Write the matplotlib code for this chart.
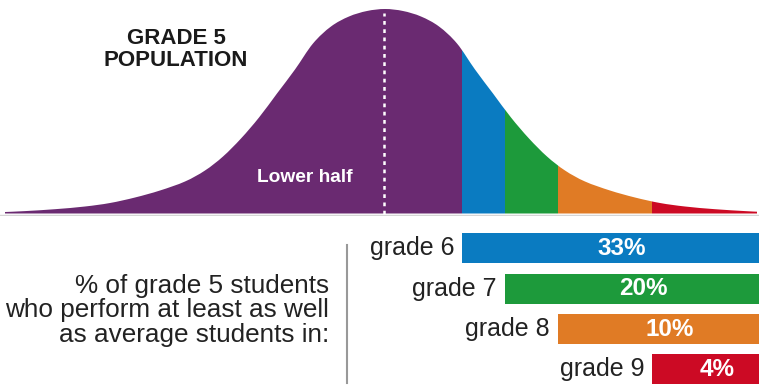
import matplotlib
matplotlib.use('Agg')
import matplotlib.pyplot as plt
from matplotlib.path import Path
from matplotlib.patches import PathPatch

plt.rcParams['font.family'] = ['Liberation Sans', 'DejaVu Sans']

# bell curve (x position, height above baseline)
curve_x = [5, 25, 55, 85, 110, 135, 160, 185, 205, 223, 241, 259, 277, 295, 313, 331, 349, 367,
           385, 403, 421, 439, 457, 475, 493, 511, 529, 547, 565, 585, 610, 635, 660, 685, 715, 745, 757]
curve_h = [1.5, 2.4, 4.3, 7, 10.5, 16, 23, 32, 43, 57, 75, 96, 120, 144, 170, 187, 197, 202.5,
           204.5, 202.5, 197, 187, 170, 144, 120, 96, 75, 57, 43, 32, 23, 16, 10.5, 7, 4.3, 2.4, 1.8]

mean_x = 384
cutoffs = [462, 505, 558, 652]          # where each grade's average sits on the curve
grades = ['grade 6', 'grade 7', 'grade 8', 'grade 9']
shares = ['33%', '20%', '10%', '4%']
colors = ['#0A7BC1', '#1D9A3B', '#E07B25', '#CC0A24']
purple = '#6A2A71'

W, H = 759, 386
fig = plt.figure(figsize=(W / 100, H / 100), dpi=100)

# ---- top: distribution ----
ax = fig.add_axes([0, 170 / H, 1, 216 / H])
ax.set_xlim(0, W)
ax.set_ylim(-2.5, 213.5)
ax.axis('off')

# smooth the read points with a Catmull-Rom -> bezier path
pts = list(zip(curve_x, curve_h))
verts = [(curve_x[0], 0), pts[0]]
codes = [Path.MOVETO, Path.LINETO]
for i in range(len(pts) - 1):
    p0 = pts[max(i - 1, 0)]
    p1 = pts[i]
    p2 = pts[i + 1]
    p3 = pts[min(i + 2, len(pts) - 1)]
    c1 = (p1[0] + (p2[0] - p0[0]) / 6, p1[1] + (p2[1] - p0[1]) / 6)
    c2 = (p2[0] - (p3[0] - p1[0]) / 6, p2[1] - (p3[1] - p1[1]) / 6)
    verts += [c1, c2, p2]
    codes += [Path.CURVE4] * 3
verts += [(curve_x[-1], 0), (curve_x[0], 0)]
codes += [Path.LINETO, Path.CLOSEPOLY]
shape = PathPatch(Path(verts, codes), facecolor='none', edgecolor='none')
ax.add_patch(shape)

edges = [0] + cutoffs + [W]
fills = [purple] + colors
for x0, x1, c in zip(edges[:-1], edges[1:], fills):
    span = ax.axvspan(x0, x1, color=c, lw=0)
    span.set_clip_path(shape)

ax.plot([0, W], [-1.2, -1.2], color='#d5d5d5', lw=1)
ax.plot([mean_x, mean_x], [0, 201], color='white', lw=1.8, dashes=(1.5, 1.8))

ax.text(176, 164, 'GRADE 5\nPOPULATION', ha='center', va='center', fontsize=16,
        fontweight='bold', color='#1a1a1a', linespacing=1.0)
ax.text(305, 36, 'Lower half', ha='center', va='center', fontsize=13.8,
        fontweight='bold', color='white')

# ---- bottom: bars ----
ax2 = fig.add_axes([0, 0, 1, 170 / H])
ax2.set_xlim(0, W)
ax2.set_ylim(3.412, -0.806)
ax2.axis('off')

bar_end = 782
ypos = range(len(grades))
ax2.barh(ypos, [bar_end - c for c in cutoffs], left=cutoffs, height=0.744, color=colors)
for y, c, g, s in zip(ypos, cutoffs, grades, shares):
    ax2.text(c - 8, y, g, ha='right', va='center', fontsize=18, color='#222222')
    ax2.text((c + bar_end) / 2, y, s, ha='center', va='center', fontsize=17.5,
             fontweight='bold', color='white')

ax2.axvline(347, ymin=0.018, ymax=0.83, color='#999999', lw=1.5)
ax2.text(329, 1.53, '% of grade 5 students\nwho perform at least as well\nas average students in:',
         ha='right', va='center', multialignment='right', fontsize=18.8,
         color='#222222', linespacing=1.03)

fig.savefig('out.png', dpi=100)
